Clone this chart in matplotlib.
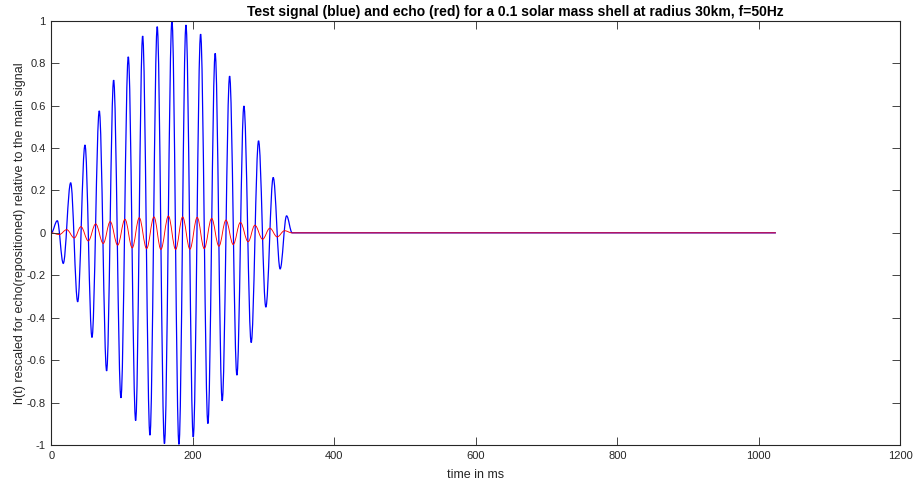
import matplotlib
matplotlib.use("Agg")
import matplotlib.pyplot as plt
from matplotlib.path import Path
from matplotlib.patches import PathPatch

# extrema of the test signal (ms, h)
blue_t = [0, 8.5, 16.9, 27.4, 37.3, 47.6, 57.5, 67.8, 78.2, 88.1, 98.4, 108.8,
          119.2, 129.1, 139.4, 149.7, 159.9, 170.5, 180.4, 190.3, 200.6, 211.0,
          221.3, 231.6, 241.5, 252.0, 262.3, 272.2, 282.5, 292.9, 303.2, 313.6,
          323.4, 332.5, 340.4]
blue_h = [0, 0.057, -0.144, 0.236, -0.325, 0.414, -0.493, 0.575, -0.651, 0.720,
          -0.778, 0.830, -0.885, 0.928, -0.954, 0.972, -0.994, 1.0, -0.997, 0.980,
          -0.962, 0.937, -0.899, 0.846, -0.792, 0.739, -0.671, 0.598, -0.517,
          0.434, -0.350, 0.261, -0.170, 0.080, 0]

# extrema of the echo
red_t = [0, 11.3, 21.8, 32.5, 41.9, 52.3, 62.7, 73.4, 83.3, 93.8, 104.1, 114.4,
         124.3, 134.7, 145.1, 154.9, 165.5, 175.7, 185.6, 195.9, 206.2, 216.1,
         226.6, 236.9, 246.8, 257.1, 267.2, 278.2, 287.7, 298.6, 308.9, 319.2,
         329.7, 340.0]
red_h = [0, -0.008, 0.015, -0.024, 0.029, -0.038, 0.042, -0.050, 0.053, -0.058,
         0.064, -0.071, 0.071, -0.074, 0.075, -0.078, 0.079, -0.078, 0.075, -0.077,
         0.073, -0.074, 0.068, -0.063, 0.060, -0.055, 0.049, -0.042, 0.036, -0.030,
         0.022, -0.019, 0.010, 0]

t_end = 1024  # signal length in ms

x_ticks = [0, 200, 400, 600, 800, 1000, 1200]
y_ticks = [-1, -0.8, -0.6, -0.4, -0.2, 0, 0.2, 0.4, 0.6, 0.8, 1]
y_labels = ['-1', '-0.8', '-0.6', '-0.4', '-0.2', '0', '0.2', '0.4', '0.6', '0.8', '1']


def wave(ts, hs, t_last):
    # smooth half-waves between extrema, drawn as cubic bezier segments
    k = 0.3634
    verts = [(ts[0], hs[0])]
    codes = [Path.MOVETO]
    for i in range(1, len(ts)):
        t0, h0, t1, h1 = ts[i - 1], hs[i - 1], ts[i], hs[i]
        dt = t1 - t0
        verts += [(t0 + k * dt, h0), (t1 - k * dt, h1), (t1, h1)]
        codes += [Path.CURVE4] * 3
    verts.append((t_last, 0))
    codes.append(Path.LINETO)
    return Path(verts, codes)


plt.rcParams['font.family'] = ['Liberation Sans', 'DejaVu Sans']
dark = '#262626'

fig = plt.figure(figsize=(9.16, 4.86), dpi=100)
ax = fig.add_axes([0.056, 0.0844, 0.927, 0.873])

ax.add_patch(PathPatch(wave(blue_t, blue_h, t_end), fill=False, edgecolor='#0000ff', lw=0.9))
ax.add_patch(PathPatch(wave(red_t, red_h, t_end), fill=False, edgecolor='#ff0000', lw=0.65))

ax.set_xlim(0, 1200)
ax.set_ylim(-1, 1)
ax.set_xticks(x_ticks)
ax.set_yticks(y_ticks)
ax.set_yticklabels(y_labels)
ax.tick_params(direction='in', top=True, right=True, length=6, width=0.6,
               labelsize=8, colors=dark, pad=4)
for s in ax.spines.values():
    s.set_color(dark)
    s.set_linewidth(0.8)

ax.set_title('Test signal (blue) and echo (red) for a 0.1 solar mass shell at radius 30km, f=50Hz',
             fontsize=10, fontweight='bold', color='black', x=0.546, pad=3.5)
ax.set_xlabel('time in ms', fontsize=9, color=dark)
ax.set_ylabel('h(t) rescaled for echo(repositioned) relative to the main signal', fontsize=9, color=dark)
ax.xaxis.set_label_coords(0.5, -0.056)
ax.yaxis.set_label_coords(-0.0298, 0.5)

fig.savefig('out.png', dpi=100)
